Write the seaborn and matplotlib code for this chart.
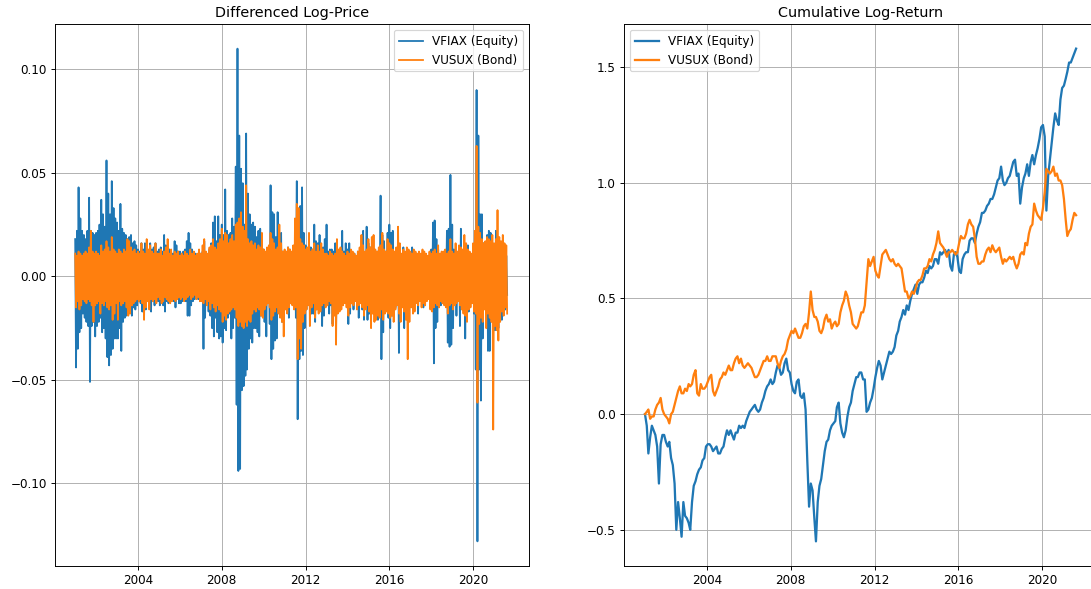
import numpy as np
import pandas as pd
import matplotlib
matplotlib.use("Agg")
import matplotlib.pyplot as plt
import matplotlib.dates as mdates
import seaborn as sns

# =========================
# DATA (monthly, Jan 2001 - Aug 2021)
# =========================
months = pd.date_range("2001-01-01", "2021-08-01", freq="MS")

# differenced log-price: monthly high / low of the daily values
equity_hi = [
    0.018, 0.022, 0.043, 0.028, 0.022, 0.020, 0.018, 0.022, 0.038, 0.022, 0.021, 0.020,  # 2001
    0.021, 0.022, 0.025, 0.037, 0.030, 0.024, 0.056, 0.040, 0.030, 0.046, 0.033, 0.028,  # 2002
    0.026, 0.022, 0.035, 0.023, 0.021, 0.020, 0.018, 0.019, 0.020, 0.016, 0.017, 0.015,  # 2003
    0.013, 0.012, 0.016, 0.013, 0.016, 0.012, 0.011, 0.016, 0.013, 0.014, 0.016, 0.012,  # 2004
    0.013, 0.014, 0.012, 0.020, 0.015, 0.012, 0.013, 0.012, 0.011, 0.017, 0.015, 0.012,  # 2005
    0.012, 0.011, 0.012, 0.013, 0.017, 0.021, 0.016, 0.013, 0.011, 0.011, 0.010, 0.011,  # 2006
    0.011, 0.012, 0.017, 0.011, 0.010, 0.013, 0.016, 0.026, 0.029, 0.017, 0.029, 0.020,  # 2007
    0.025, 0.020, 0.042, 0.022, 0.020, 0.021, 0.028, 0.024, 0.053, 0.110, 0.068, 0.052,  # 2008
    0.045, 0.025, 0.069, 0.040, 0.030, 0.025, 0.026, 0.024, 0.019, 0.022, 0.023, 0.015,  # 2009
    0.013, 0.011, 0.011, 0.013, 0.044, 0.031, 0.030, 0.019, 0.031, 0.015, 0.021, 0.012,  # 2010
    0.010, 0.010, 0.014, 0.013, 0.010, 0.012, 0.016, 0.046, 0.030, 0.034, 0.043, 0.021,  # 2011
    0.015, 0.012, 0.016, 0.014, 0.013, 0.025, 0.017, 0.016, 0.020, 0.012, 0.014, 0.018,  # 2012
    0.025, 0.012, 0.013, 0.013, 0.012, 0.016, 0.015, 0.012, 0.012, 0.022, 0.012, 0.016,  # 2013
    0.013, 0.016, 0.012, 0.011, 0.011, 0.008, 0.012, 0.012, 0.011, 0.022, 0.010, 0.024,  # 2014
    0.016, 0.014, 0.013, 0.011, 0.011, 0.012, 0.012, 0.039, 0.020, 0.017, 0.012, 0.021,  # 2015
    0.025, 0.021, 0.022, 0.011, 0.013, 0.020, 0.015, 0.008, 0.014, 0.009, 0.012, 0.010,  # 2016
    0.010, 0.014, 0.010, 0.011, 0.010, 0.009, 0.007, 0.010, 0.008, 0.007, 0.009, 0.009,  # 2017
    0.013, 0.026, 0.027, 0.018, 0.013, 0.010, 0.011, 0.008, 0.009, 0.022, 0.023, 0.049,  # 2018
    0.025, 0.013, 0.012, 0.011, 0.013, 0.023, 0.010, 0.015, 0.011, 0.015, 0.010, 0.009,  # 2019
    0.013, 0.015, 0.090, 0.068, 0.030, 0.030, 0.016, 0.014, 0.020, 0.022, 0.021, 0.015,  # 2020
    0.015, 0.022, 0.019, 0.012, 0.016, 0.014, 0.015, 0.010,                              # 2021
]
equity_lo = [
    -0.044, -0.035, -0.027, -0.025, -0.018, -0.020, -0.022, -0.024, -0.051, -0.024, -0.022, -0.029,
    -0.024, -0.022, -0.020, -0.027, -0.025, -0.030, -0.039, -0.043, -0.038, -0.035, -0.030, -0.030,
    -0.030, -0.025, -0.036, -0.022, -0.020, -0.019, -0.018, -0.017, -0.019, -0.015, -0.016, -0.014,
    -0.012, -0.013, -0.017, -0.014, -0.016, -0.012, -0.013, -0.017, -0.012, -0.014, -0.011, -0.012,
    -0.014, -0.012, -0.014, -0.017, -0.012, -0.013, -0.012, -0.011, -0.012, -0.015, -0.011, -0.013,
    -0.013, -0.012, -0.011, -0.012, -0.019, -0.019, -0.014, -0.012, -0.011, -0.010, -0.011, -0.012,
    -0.012, -0.035, -0.020, -0.011, -0.017, -0.019, -0.025, -0.029, -0.020, -0.027, -0.030, -0.029,
    -0.032, -0.025, -0.026, -0.020, -0.018, -0.030, -0.025, -0.020, -0.062, -0.094, -0.093, -0.055,
    -0.053, -0.048, -0.045, -0.035, -0.030, -0.032, -0.025, -0.025, -0.027, -0.029, -0.019, -0.015,
    -0.022, -0.029, -0.012, -0.023, -0.040, -0.035, -0.031, -0.030, -0.015, -0.017, -0.022, -0.013,
    -0.012, -0.015, -0.020, -0.013, -0.012, -0.015, -0.020, -0.069, -0.040, -0.036, -0.038, -0.025,
    -0.016, -0.012, -0.011, -0.018, -0.018, -0.022, -0.016, -0.010, -0.012, -0.024, -0.019, -0.013,
    -0.013, -0.018, -0.014, -0.023, -0.015, -0.025, -0.014, -0.015, -0.013, -0.012, -0.012, -0.011,
    -0.023, -0.018, -0.013, -0.016, -0.010, -0.009, -0.020, -0.012, -0.016, -0.021, -0.008, -0.021,
    -0.018, -0.015, -0.017, -0.011, -0.012, -0.021, -0.010, -0.040, -0.027, -0.012, -0.016, -0.020,
    -0.025, -0.019, -0.014, -0.015, -0.013, -0.037, -0.010, -0.008, -0.025, -0.009, -0.012, -0.008,
    -0.008, -0.007, -0.013, -0.010, -0.018, -0.009, -0.007, -0.015, -0.006, -0.005, -0.007, -0.005,
    -0.011, -0.042, -0.025, -0.022, -0.012, -0.014, -0.010, -0.008, -0.008, -0.032, -0.034, -0.033,
    -0.025, -0.010, -0.019, -0.009, -0.024, -0.015, -0.011, -0.030, -0.009, -0.017, -0.008, -0.007,
    -0.018, -0.045, -0.128, -0.045, -0.060, -0.030, -0.015, -0.009, -0.036, -0.036, -0.015, -0.014,
    -0.026, -0.025, -0.025, -0.012, -0.021, -0.014, -0.016, -0.009,
]
bond_hi = [
    0.011, 0.010, 0.012, 0.011, 0.010, 0.011, 0.012, 0.011, 0.014, 0.022, 0.012, 0.011,
    0.012, 0.011, 0.010, 0.015, 0.012, 0.013, 0.017, 0.014, 0.012, 0.019, 0.013, 0.012,
    0.011, 0.013, 0.012, 0.011, 0.013, 0.012, 0.018, 0.017, 0.014, 0.012, 0.013, 0.011,
    0.012, 0.011, 0.016, 0.012, 0.011, 0.018, 0.013, 0.015, 0.012, 0.011, 0.016, 0.011,
    0.011, 0.013, 0.010, 0.012, 0.014, 0.018, 0.011, 0.013, 0.010, 0.012, 0.011, 0.012,
    0.010, 0.011, 0.010, 0.012, 0.011, 0.010, 0.013, 0.011, 0.012, 0.010, 0.011, 0.013,
    0.011, 0.015, 0.018, 0.012, 0.011, 0.014, 0.015, 0.018, 0.014, 0.013, 0.016, 0.018,
    0.023, 0.017, 0.021, 0.020, 0.016, 0.018, 0.020, 0.017, 0.025, 0.026, 0.028, 0.031,
    0.024, 0.022, 0.044, 0.018, 0.016, 0.017, 0.015, 0.016, 0.013, 0.015, 0.014, 0.021,
    0.013, 0.012, 0.014, 0.015, 0.021, 0.018, 0.016, 0.013, 0.014, 0.025, 0.016, 0.012,
    0.013, 0.012, 0.014, 0.013, 0.012, 0.015, 0.028, 0.035, 0.033, 0.018, 0.016, 0.015,
    0.013, 0.014, 0.021, 0.012, 0.013, 0.016, 0.012, 0.015, 0.012, 0.016, 0.013, 0.011,
    0.011, 0.010, 0.012, 0.011, 0.010, 0.011, 0.018, 0.013, 0.014, 0.012, 0.011, 0.010,
    0.012, 0.011, 0.013, 0.012, 0.011, 0.010, 0.012, 0.014, 0.020, 0.015, 0.012, 0.013,
    0.018, 0.014, 0.019, 0.020, 0.013, 0.012, 0.014, 0.015, 0.021, 0.013, 0.012, 0.018,
    0.016, 0.015, 0.013, 0.012, 0.014, 0.024, 0.016, 0.011, 0.013, 0.012, 0.014, 0.013,
    0.012, 0.011, 0.013, 0.012, 0.011, 0.012, 0.011, 0.013, 0.012, 0.011, 0.010, 0.012,
    0.011, 0.012, 0.013, 0.011, 0.015, 0.011, 0.012, 0.012, 0.013, 0.011, 0.012, 0.018,
    0.012, 0.011, 0.016, 0.012, 0.015, 0.014, 0.013, 0.020, 0.016, 0.013, 0.012, 0.011,
    0.016, 0.022, 0.063, 0.024, 0.021, 0.018, 0.016, 0.017, 0.019, 0.018, 0.017, 0.020,
    0.016, 0.018, 0.032, 0.019, 0.017, 0.020, 0.016, 0.015,
]
bond_lo = [
    -0.015, -0.012, -0.016, -0.014, -0.011, -0.012, -0.013, -0.011, -0.012, -0.014, -0.022, -0.014,
    -0.013, -0.012, -0.018, -0.013, -0.014, -0.012, -0.015, -0.016, -0.014, -0.021, -0.018, -0.013,
    -0.021, -0.012, -0.014, -0.013, -0.012, -0.015, -0.019, -0.018, -0.014, -0.013, -0.012, -0.011,
    -0.012, -0.011, -0.013, -0.021, -0.015, -0.012, -0.016, -0.011, -0.012, -0.011, -0.013, -0.010,
    -0.011, -0.013, -0.012, -0.010, -0.011, -0.012, -0.013, -0.012, -0.011, -0.012, -0.011, -0.010,
    -0.011, -0.010, -0.012, -0.011, -0.010, -0.009, -0.011, -0.010, -0.009, -0.011, -0.010, -0.012,
    -0.012, -0.013, -0.011, -0.014, -0.012, -0.016, -0.013, -0.015, -0.017, -0.014, -0.016, -0.017,
    -0.022, -0.019, -0.021, -0.018, -0.017, -0.016, -0.015, -0.016, -0.020, -0.024, -0.022, -0.024,
    -0.025, -0.022, -0.024, -0.021, -0.022, -0.018, -0.016, -0.017, -0.015, -0.016, -0.019, -0.020,
    -0.016, -0.014, -0.013, -0.015, -0.021, -0.019, -0.017, -0.015, -0.018, -0.020, -0.022, -0.029,
    -0.016, -0.018, -0.015, -0.013, -0.014, -0.016, -0.015, -0.040, -0.030, -0.035, -0.022, -0.018,
    -0.016, -0.014, -0.024, -0.015, -0.013, -0.020, -0.016, -0.018, -0.017, -0.014, -0.013, -0.015,
    -0.014, -0.012, -0.013, -0.024, -0.019, -0.033, -0.018, -0.017, -0.016, -0.014, -0.013, -0.015,
    -0.019, -0.015, -0.013, -0.014, -0.012, -0.016, -0.014, -0.013, -0.015, -0.019, -0.016, -0.014,
    -0.017, -0.025, -0.018, -0.022, -0.021, -0.019, -0.020, -0.016, -0.021, -0.018, -0.017, -0.018,
    -0.020, -0.019, -0.022, -0.016, -0.014, -0.018, -0.022, -0.015, -0.017, -0.021, -0.040, -0.022,
    -0.015, -0.018, -0.017, -0.013, -0.014, -0.012, -0.015, -0.013, -0.014, -0.012, -0.011, -0.016,
    -0.017, -0.015, -0.013, -0.014, -0.015, -0.012, -0.013, -0.014, -0.015, -0.018, -0.014, -0.013,
    -0.016, -0.014, -0.013, -0.012, -0.014, -0.016, -0.018, -0.019, -0.022, -0.016, -0.015, -0.013,
    -0.017, -0.018, -0.061, -0.023, -0.020, -0.022, -0.016, -0.025, -0.018, -0.020, -0.022, -0.074,
    -0.024, -0.026, -0.031, -0.022, -0.017, -0.019, -0.015, -0.018,
]

# cumulative log-return, one value per month
equity_cum = [
    0.00, -0.05, -0.17, -0.10, -0.05, -0.07, -0.09, -0.14, -0.30, -0.13, -0.09, -0.09,
    -0.12, -0.14, -0.12, -0.19, -0.22, -0.30, -0.50, -0.38, -0.45, -0.53, -0.38, -0.44,
    -0.45, -0.47, -0.50, -0.38, -0.31, -0.29, -0.26, -0.24, -0.23, -0.20, -0.19, -0.14,
    -0.13, -0.13, -0.14, -0.16, -0.15, -0.14, -0.17, -0.17, -0.15, -0.14, -0.10, -0.07,
    -0.09, -0.07, -0.09, -0.11, -0.08, -0.08, -0.05, -0.06, -0.05, -0.06, -0.03, -0.01,
    0.01, 0.02, 0.03, 0.04, 0.02, 0.01, 0.02, 0.05, 0.07, 0.10, 0.12, 0.13,
    0.15, 0.13, 0.14, 0.18, 0.21, 0.20, 0.17, 0.18, 0.22, 0.24, 0.19, 0.18,
    0.13, 0.10, 0.09, 0.14, 0.15, 0.08, 0.07, 0.09, 0.02, -0.20, -0.40, -0.30,
    -0.33, -0.45, -0.55, -0.38, -0.31, -0.28, -0.22, -0.16, -0.12, -0.11, -0.07, -0.05,
    -0.04, -0.03, 0.03, 0.05, -0.04, -0.08, -0.10, -0.07, -0.01, 0.03, 0.05, 0.10,
    0.13, 0.16, 0.16, 0.18, 0.18, 0.15, 0.15, 0.01, 0.02, 0.05, 0.07, 0.11,
    0.16, 0.20, 0.23, 0.21, 0.15, 0.18, 0.21, 0.24, 0.27, 0.26, 0.27, 0.29,
    0.34, 0.36, 0.40, 0.42, 0.45, 0.43, 0.47, 0.45, 0.49, 0.52, 0.54, 0.56,
    0.52, 0.56, 0.57, 0.57, 0.59, 0.62, 0.61, 0.64, 0.63, 0.64, 0.67, 0.67,
    0.65, 0.70, 0.69, 0.70, 0.71, 0.69, 0.71, 0.64, 0.62, 0.69, 0.70, 0.68,
    0.62, 0.61, 0.67, 0.69, 0.70, 0.70, 0.75, 0.76, 0.76, 0.74, 0.78, 0.81,
    0.83, 0.87, 0.87, 0.88, 0.90, 0.91, 0.93, 0.93, 0.95, 0.98, 1.01, 1.02,
    1.07, 1.01, 0.99, 1.00, 1.02, 1.03, 1.06, 1.09, 1.10, 1.03, 1.04, 0.91,
    0.98, 1.02, 1.04, 1.08, 1.03, 1.09, 1.12, 1.08, 1.12, 1.15, 1.19, 1.24,
    1.25, 1.20, 0.88, 1.03, 1.10, 1.17, 1.24, 1.30, 1.27, 1.25, 1.36, 1.41,
    1.42, 1.45, 1.48, 1.52, 1.52, 1.54, 1.56, 1.58,
]
bond_cum = [
    0.00, 0.01, 0.02, -0.02, -0.01, -0.01, 0.02, 0.04, 0.05, 0.07, 0.02, 0.00,
    -0.01, -0.02, -0.04, 0.00, 0.01, 0.04, 0.07, 0.10, 0.12, 0.09, 0.09, 0.11,
    0.10, 0.13, 0.12, 0.13, 0.17, 0.19, 0.09, 0.08, 0.13, 0.11, 0.11, 0.12,
    0.14, 0.16, 0.17, 0.10, 0.08, 0.10, 0.12, 0.15, 0.16, 0.18, 0.17, 0.19,
    0.21, 0.19, 0.19, 0.22, 0.24, 0.25, 0.22, 0.24, 0.21, 0.20, 0.21, 0.22,
    0.21, 0.20, 0.18, 0.16, 0.16, 0.17, 0.19, 0.21, 0.23, 0.23, 0.25, 0.23,
    0.23, 0.25, 0.25, 0.25, 0.22, 0.20, 0.23, 0.25, 0.26, 0.28, 0.32, 0.34,
    0.36, 0.35, 0.37, 0.35, 0.33, 0.33, 0.35, 0.38, 0.39, 0.37, 0.44, 0.53,
    0.45, 0.42, 0.42, 0.40, 0.36, 0.35, 0.37, 0.41, 0.43, 0.40, 0.41, 0.37,
    0.39, 0.40, 0.38, 0.39, 0.44, 0.47, 0.49, 0.53, 0.51, 0.47, 0.44, 0.39,
    0.38, 0.37, 0.38, 0.41, 0.44, 0.44, 0.47, 0.57, 0.67, 0.64, 0.66, 0.68,
    0.62, 0.60, 0.59, 0.64, 0.69, 0.70, 0.71, 0.69, 0.67, 0.66, 0.67, 0.65,
    0.64, 0.65, 0.64, 0.63, 0.58, 0.53, 0.53, 0.50, 0.51, 0.53, 0.52, 0.54,
    0.57, 0.58, 0.58, 0.60, 0.63, 0.63, 0.64, 0.67, 0.66, 0.69, 0.71, 0.74,
    0.79, 0.74, 0.73, 0.72, 0.70, 0.68, 0.70, 0.70, 0.71, 0.70, 0.69, 0.70,
    0.74, 0.77, 0.76, 0.76, 0.78, 0.82, 0.84, 0.82, 0.81, 0.76, 0.68, 0.65,
    0.65, 0.66, 0.66, 0.69, 0.71, 0.72, 0.70, 0.73, 0.71, 0.70, 0.71, 0.72,
    0.68, 0.65, 0.67, 0.66, 0.67, 0.68, 0.67, 0.68, 0.65, 0.63, 0.65, 0.69,
    0.70, 0.69, 0.74, 0.73, 0.78, 0.81, 0.82, 0.91, 0.88, 0.86, 0.85, 0.84,
    0.89, 0.96, 1.06, 1.05, 1.04, 1.05, 1.07, 1.03, 1.04, 1.01, 1.01, 0.99,
    0.93, 0.84, 0.77, 0.79, 0.80, 0.84, 0.87, 0.86,
]

labels = ["VFIAX (Equity)", "VUSUX (Bond)"]

# =========================
# BUILD FRAMES
# =========================
# high on the 1st, low on the 16th of each month
half = (months + pd.Timedelta(days=15)).values
diff_dates = np.ravel(np.column_stack([months.values, half]))
diff_df = pd.DataFrame({
    "date": diff_dates,
    "equity": np.ravel(np.column_stack([equity_hi, equity_lo])),
    "bond": np.ravel(np.column_stack([bond_hi, bond_lo])),
})
cum_df = pd.DataFrame({
    "date": months + pd.Timedelta(days=14),
    "equity": equity_cum,
    "bond": bond_cum,
})

# =========================
# PLOT
# =========================
plt.rcParams["axes.grid"] = True

dpi = 86
fig = plt.figure(figsize=(1091 / dpi, 589 / dpi), dpi=dpi)
ax1 = fig.add_axes([55 / 1091, 23 / 589, 474 / 1091, 542 / 589])
ax2 = fig.add_axes([624 / 1091, 23 / 589, 474 / 1091, 542 / 589])

for ax, df, lw in [(ax1, diff_df, 1.5), (ax2, cum_df, 1.9)]:
    sns.lineplot(data=df, x="date", y="equity", ax=ax, color="#1f77b4",
                 label=labels[0], sort=False, estimator=None, linewidth=lw)
    sns.lineplot(data=df, x="date", y="bond", ax=ax, color="#ff7f0e",
                 label=labels[1], sort=False, estimator=None, linewidth=lw)
    ax.set_xlabel("")
    ax.set_ylabel("")
    ax.set_xlim(pd.Timestamp("2000-01-15"), pd.Timestamp("2022-09-01"))
    ax.xaxis.set_major_locator(mdates.YearLocator(4))
    ax.xaxis.set_major_formatter(mdates.DateFormatter("%Y"))
    ax.grid(True, color="#b0b0b0", linewidth=0.8)

ax1.set_title("Differenced Log-Price")
ax2.set_title("Cumulative Log-Return")
ax1.legend(loc="upper right")
ax2.legend(loc="upper left")

fig.savefig("out.png", dpi=dpi)
